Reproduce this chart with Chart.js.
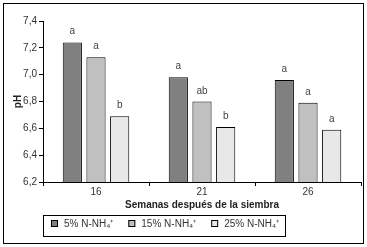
<!DOCTYPE html>
<html>
<head>
<meta charset="utf-8">
<script src="https://cdn.jsdelivr.net/npm/chart.js@4.4.0/dist/chart.umd.min.js"></script>
<style>
  html, body { margin: 0; padding: 0; background: #fff; }
  #wrap { width: 367px; height: 247px; position: relative; }
</style>
</head>
<body>
<div id="wrap"><canvas id="chart" width="367" height="247"></canvas></div>
<script>
const weeks = ['16', '21', '26'];
const seriesLabels = ['5% N-NH₄⁺', '15% N-NH₄⁺', '25% N-NH₄⁺'];
const ph5 = [7.24, 6.98, 6.96];
const ph15 = [7.13, 6.80, 6.79];
const ph25 = [6.69, 6.61, 6.59];
const letters5 = ['a', 'a', 'a'];
const letters15 = ['a', 'ab', 'a'];
const letters25 = ['b', 'b', 'a'];

const FONT = "'Liberation Sans Narrow', 'Arial Narrow', 'Liberation Sans', sans-serif";
const colors = ['#808080', '#c0c0c0', '#e8e8e8'];

const frame = {
  id: 'frame',
  afterDraw(chart) {
    const ctx = chart.ctx;
    ctx.save();
    ctx.strokeStyle = '#000';
    ctx.lineWidth = 1;
    ctx.strokeRect(3.5, 3.5, 360, 240);

    // legend box
    ctx.strokeRect(43.5, 215.5, 242, 21);
    ctx.font = '10px ' + FONT;
    ctx.textBaseline = 'middle';
    let x = 51;
    chart.data.datasets.forEach((ds) => {
      ctx.fillStyle = ds.backgroundColor;
      ctx.fillRect(x, 220, 7, 7);
      ctx.strokeRect(x + 0.5, 220.5, 6, 6);
      ctx.fillStyle = '#333';
      ctx.fillText(ds.label, x + 13, 224);
      x += 13 + ctx.measureText(ds.label).width + 15;
    });
    ctx.restore();
  },
  afterDatasetsDraw(chart) {
    const ctx = chart.ctx;
    ctx.save();
    ctx.font = '10px ' + FONT;
    ctx.fillStyle = '#444';
    ctx.textAlign = 'center';
    ctx.textBaseline = 'alphabetic';
    chart.data.datasets.forEach((ds, i) => {
      chart.getDatasetMeta(i).data.forEach((bar, j) => {
        ctx.fillText(ds.letters[j], bar.x, bar.y - 8);
      });
    });
    ctx.restore();
  }
};

new Chart(document.getElementById('chart'), {
  type: 'bar',
  data: {
    labels: weeks,
    datasets: [
      { label: seriesLabels[0], data: ph5, letters: letters5, backgroundColor: colors[0] },
      { label: seriesLabels[1], data: ph15, letters: letters15, backgroundColor: colors[1] },
      { label: seriesLabels[2], data: ph25, letters: letters25, backgroundColor: colors[2] }
    ].map(d => Object.assign(d, {
      borderColor: '#000',
      borderWidth: 1,
      borderSkipped: false,
      categoryPercentage: 0.67,
      barPercentage: 0.81
    }))
  },
  options: {
    responsive: false,
    animation: false,
    events: [],
    layout: { padding: { left: 0, right: 6, top: 21, bottom: 36 } },
    plugins: { legend: { display: false }, tooltip: { enabled: false } },
    scales: {
      x: {
        offset: true,
        grid: { offset: true, drawOnChartArea: false, drawTicks: true, tickLength: 4, color: '#000' },
        border: { color: '#000' },
        ticks: { color: '#333', font: { family: FONT, size: 10 }, padding: 0 },
        title: {
          display: true,
          text: 'Semanas después de la siembra',
          color: '#222',
          font: { family: FONT, size: 10, weight: 'bold' },
          padding: { top: 1, bottom: 0 }
        }
      },
      y: {
        min: 6.2,
        max: 7.4,
        afterFit(scale) { scale.width = 43; },
        grid: { drawOnChartArea: false, drawTicks: true, tickLength: 4, color: '#000' },
        border: { color: '#000' },
        ticks: {
          stepSize: 0.2,
          color: '#333',
          font: { family: FONT, size: 10 },
          padding: 2,
          callback: (v) => v.toFixed(1).replace('.', ',')
        },
        title: {
          display: true,
          text: 'pH',
          color: '#222',
          font: { family: FONT, size: 10, weight: 'bold' },
          padding: { top: 12, bottom: 0 }
        }
      }
    }
  },
  plugins: [frame]
});
</script>
</body>
</html>
